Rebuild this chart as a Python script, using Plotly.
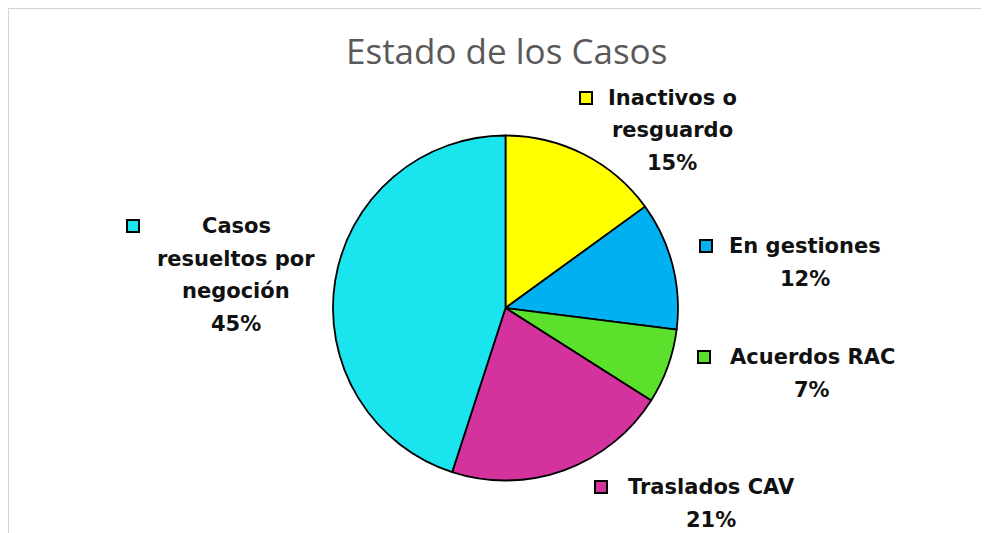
import plotly.graph_objects as go

W, H = 989, 533
OFF = 8  # page body margin shifts the figure by 8px

# Data, clockwise from 12 o'clock
labels = ['Inactivos o resguardo', 'En gestiones', 'Acuerdos RAC',
          'Traslados CAV', 'Casos resueltos por negoción']
values = [15, 12, 7, 21, 45]
colors = ['#FFFF00', '#00B0F0', '#5BE12B', '#D4339E', '#1AE4EE']

# how each label is wrapped in the picture
label_lines = [['Inactivos o', 'resguardo'],
               ['En gestiones'],
               ['Acuerdos RAC'],
               ['Traslados CAV'],
               ['Casos', 'resueltos por', 'negoción']]

# label placement in pixels: text centre x, first line y, legend box x
label_pos = [(672, 98, 586), (805, 246, 706), (812, 357, 704),
             (711, 487, 601), (236, 226, 133)]
line_gap = 32.5


def px(x):
    return (x - OFF) / W


def py(y):
    return 1 - (y - OFF) / H


fig = go.Figure()

# pie box in pixels: left 333, right 678, top 136, bottom 480
fig.add_trace(go.Pie(
    labels=labels, values=values, sort=False, direction='clockwise',
    rotation=0, textinfo='none', hoverinfo='label+percent',
    marker=dict(colors=colors, line=dict(color='black', width=1.8)),
    domain=dict(x=[px(333), px(678)], y=[py(481), py(135)]),
    showlegend=False,
))

total = sum(values)
annotations = []
shapes = []
font = dict(family='DejaVu Sans', size=21, color='#111111')

for lines, (cx, y0, bx), v, c in zip(label_lines, label_pos, values, colors):
    all_lines = lines + [f'{round(100 * v / total)}%']
    for i, t in enumerate(all_lines):
        annotations.append(dict(
            x=px(cx), y=py(y0 + i * line_gap), xref='paper', yref='paper',
            text=f'<b>{t}</b>', showarrow=False, xanchor='center',
            yanchor='middle', font=font))
    # little legend key square
    shapes.append(dict(type='rect', xref='paper', yref='paper',
                       x0=px(bx - 6), x1=px(bx + 6), y0=py(y0 + 6), y1=py(y0 - 6),
                       fillcolor=c, line=dict(color='black', width=2)))

# chart frame (partly cropped)
shapes.append(dict(type='line', xref='paper', yref='paper',
                   x0=px(8), x1=1, y0=py(8), y1=py(8),
                   line=dict(color='#d4d4d4', width=2)))
shapes.append(dict(type='line', xref='paper', yref='paper',
                   x0=px(8), x1=px(8), y0=py(8), y1=0,
                   line=dict(color='#d4d4d4', width=2)))

annotations.append(dict(
    x=px(506), y=py(50), xref='paper', yref='paper',
    text='Estado de los Casos', showarrow=False, xanchor='center',
    yanchor='middle', font=dict(family='Open Sans', size=35, color='#595959')))

fig.update_layout(
    width=W, height=H,
    margin=dict(l=0, r=0, t=0, b=0),
    paper_bgcolor='white',
    plot_bgcolor='white',
    annotations=annotations,
    shapes=shapes,
)

fig.write_html("out.html")
